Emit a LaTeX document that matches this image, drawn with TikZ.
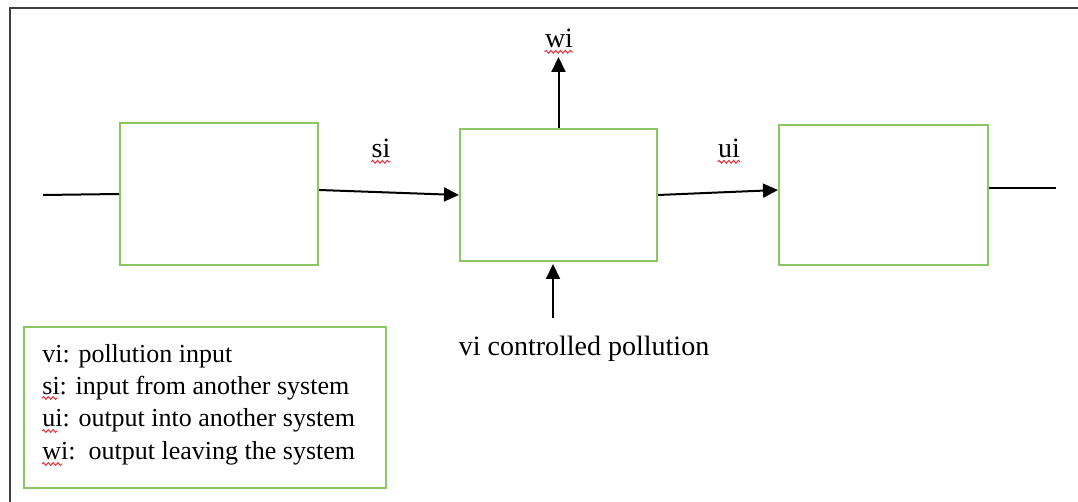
\documentclass[tikz,border=0pt]{standalone}
\usepackage{fontspec}
\setmainfont{Liberation Serif}
\usetikzlibrary{arrows.meta,positioning,decorations.pathmorphing}
\definecolor{Frame}{HTML}{404040}
\definecolor{BoxGreen}{HTML}{8CC663}
\definecolor{Spell}{HTML}{E8303A}

\tikzset{
  block/.style={draw=BoxGreen,line width=1pt,inner sep=0pt},
  flow/.style={line width=1pt,-{Triangle[length=7.5pt,width=7pt]}},
  lead/.style={line width=1pt},
  lbl/.style={font=\fontsize{14}{16}\selectfont,inner sep=0pt},
  squiggle/.style={Spell,line width=0.5pt,decorate,
    decoration={snake,amplitude=0.7pt,segment length=2.4pt}}
}

\begin{document}
\begin{tikzpicture}[x=0.5pt,y=-0.5pt]
  \useasboundingbox (0,0) rectangle (1078,502);
  % outer frame, cut by the page on the right and at the bottom
  \draw[Frame,line width=1.3pt] (10,510) -- (10,8) -- (1090,8);

  % the three systems
  \node[block,minimum width=99pt,minimum height=71pt] (prev) at (219,194) {};
  \node[block,minimum width=98.5pt,minimum height=66pt] (sys) at (558.5,195) {};
  \node[block,minimum width=104.5pt,minimum height=70pt] (next) at (883.5,195) {};

  \coordinate (inleft) at (43,195);
  \coordinate (outright) at (1056,188);
  \coordinate (wtop) at (558.5,57);
  \coordinate (vbot) at (553,318);

  \draw[lead] (inleft) -- (prev.west);
  \draw[flow] ([yshift=2pt]prev.east) -- (sys.west);
  \draw[flow] (sys.east) -- ([yshift=2.5pt]next.west);
  \draw[lead] ([yshift=3.5pt]next.east) -- (outright);
  \draw[flow] (sys.north) -- (wtop);
  \draw[flow] (vbot) -- ([yshift=-1pt]vbot |- sys.south);

  \node[lbl] (si) at (381,148) {si};
  \node[lbl] (ui) at (729,148) {ui};
  \node[lbl] (wi) at (559,38) {wi};
  \node[lbl,anchor=base] (vi) at (584,356) {vi controlled pollution};
  \draw[squiggle] ([yshift=-2pt]si.south west) -- ([yshift=-2pt]si.south east);
  \draw[squiggle] ([yshift=-2pt]ui.south west) -- ([yshift=-2pt]ui.south east);
  \draw[squiggle] ([yshift=-2pt]wi.south west) -- ([yshift=-2pt]wi.south east);

  % legend
  \node[block,minimum width=181pt,minimum height=80.5pt] (key) at (204.5,407.5) {};
  \foreach \y/\nm/\txt in {363/kv/{vi: pollution input},
                           395/ks/{si: input from another system},
                           427/ku/{ui: output into another system},
                           460/kw/{wi:\ \ output leaving the system}}{
    \node[anchor=base west,inner sep=0pt,font=\fontsize{13}{15}\selectfont] (\nm) at (42,\y) {\txt};
  }
  \draw[squiggle] (42,398) -- (57,398);
  \draw[squiggle] (42,431) -- (57,431);
  \draw[squiggle] (42,464) -- (62,464);
\end{tikzpicture}
\end{document}
